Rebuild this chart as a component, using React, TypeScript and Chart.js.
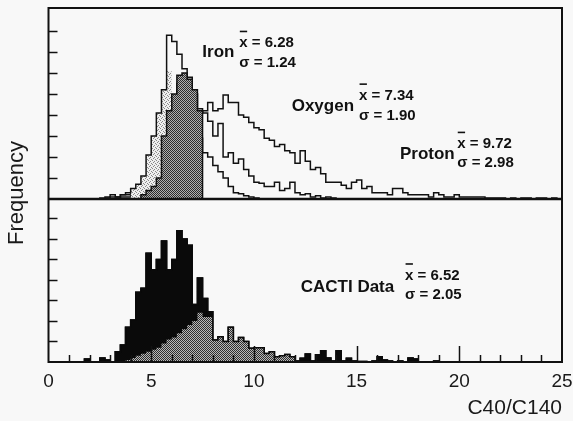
import React, { useEffect, useRef } from 'react';
import { Chart, registerables } from 'chart.js';

Chart.register(...registerables);

const FONT = "'Liberation Sans', Arial, Helvetica, sans-serif";
const BG = '#f8f8f8';
const INK = '#111111';

// ---------- data (bin width 0.25 in C40/C140) ----------
const BIN_WIDTH = 0.25;

const xTickValues = [0, 5, 10, 15, 20, 25];
const topTickValues = [10, 20, 30, 40, 50, 60, 70, 80];
const bottomTickValues = [10, 20, 30, 40, 50, 60, 70];

// Top panel: simulated showers
const ironStart = 2.75;
const ironCounts = [1, 2, 1, 2, 3, 5, 7, 11, 21, 30, 41, 52, 78, 75, 69, 62, 58, 50, 29, 22, 20, 16, 13, 10, 6, 3, 2.5, 1.5, 1, 0.5];

const ironShadeStart = 4.0;
const ironShadeCounts = [5, 7, 11, 21, 30, 41, 52, 61];

const overlapShadeStart = 4.5;
const overlapShadeCounts = [2, 4, 6, 10, 30, 42, 50, 59, 60, 57, 52, 42];

const oxygenStart = 3.5;
const oxygenCounts = [1, 1, 2, 3, 4, 6, 9, 13, 25, 38, 47, 55, 58, 56, 50, 43, 41, 37, 30, 36, 20, 22, 17, 19, 14, 11, 8, 7.5, 6, 6, 8, 4, 5, 8, 3, 2, 2.5, 1, 1.5, 0.5, 1, 0.5];

const protonStart = 2.5;
const protonCounts = [0.5, 0.5, 1, 1, 2, 2, 3, 4, 5, 7, 9, 11, 14, 18, 22, 26, 30, 34, 38, 41, 42, 46, 42, 43, 49.5, 46, 46, 40, 39, 36.5, 34, 33, 29, 28, 25, 26, 23, 22, 17, 23, 18, 14, 15, 12, 8, 8, 8, 6.5, 5, 8, 9, 5, 6, 3, 3, 3, 2, 5, 5, 3, 2, 2, 2, 2, 1, 3, 2, 1, 1, 2, 1, 1, 1, 1, 1, 0.5, 0.5, 0.5, 0.5, 0, 0.5, 0, 0.5, 0.5, 0, 0.5, 0.5, 0, 0.5];

// Bottom panel: CACTI data
const cactiStart = 1.75;
const cactiCounts = [1.5, 0, 0, 2, 1, 0, 5, 8.3, 17, 20.5, 34, 36, 53, 45, 50, 59, 45, 50, 64, 60, 57, 28, 41, 31, 24.5, 10.7, 12.3, 10, 17, 10, 12, 10, 6.7, 7, 7, 4.2, 5, 2.6, 3, 3.7, 2.5, 0.5, 1.8, 3.9, 0.5, 3.5, 5.5, 2, 0.5, 5.5, 0.5, 1.8, 0.5, 0.3, 0.3, 0, 0.5, 2.5, 1, 0.5, 0, 0.5, 0, 2, 1.5, 0, 0, 0, 0.5];

const cactiShadeStart = 3.75;
const cactiShadeCounts = [1, 2, 3, 4, 5, 6, 7, 9, 11, 12, 14, 16, 18, 20, 24, 22, 22, 10.7, 12.3, 10, 17, 10, 12, 10, 6.7, 7, 7, 4.2, 5, 2.6, 3, 3.7, 2.5, 0.5];

// Text labels (x in C40/C140 units, y in the panel's own units, alphabetic baselines)
const statLabels = [
  { name: 'Iron', mean: '6.28', sigma: '1.24', axis: 'yTop', nameX: 7.49, nameY: 67.8, statsX: 9.29, meanY: 72.2, sigmaY: 63.0 },
  { name: 'Oxygen', mean: '7.34', sigma: '1.90', axis: 'yTop', nameX: 11.84, nameY: 41.9, statsX: 15.12, meanY: 47.1, sigmaY: 37.6 },
  { name: 'Proton', mean: '9.72', sigma: '2.98', axis: 'yTop', nameX: 17.11, nameY: 18.9, statsX: 19.9, meanY: 24.1, sigmaY: 15.4 },
  { name: 'CACTI Data', mean: '6.52', sigma: '2.05', axis: 'yBot', nameX: 12.28, nameY: 34.3, statsX: 17.36, meanY: 40.0, sigmaY: 30.6 },
];

// ---------- helpers ----------
function histPoints(start: number, counts: number[]) {
  const pts: { x: number; y: number }[] = [{ x: start, y: 0 }];
  counts.forEach((c, i) => pts.push({ x: start + i * BIN_WIDTH, y: c }));
  pts.push({ x: start + counts.length * BIN_WIDTH, y: 0 });
  return pts;
}

function makePattern(size: number, bg: string, fg: string, dots: [number, number][]) {
  const c = document.createElement('canvas');
  c.width = size;
  c.height = size;
  const g = c.getContext('2d')!;
  g.fillStyle = bg;
  g.fillRect(0, 0, size, size);
  g.fillStyle = fg;
  dots.forEach(([x, y]) => g.fillRect(x, y, 1, 1));
  return g.createPattern(c, 'repeat')!;
}

const framePlugin = {
  id: 'frame',
  afterDatasetsDraw(chart: any) {
    const { ctx, chartArea: ca, scales } = chart;
    const yTop = scales.yTop;
    const yBot = scales.yBot;
    const x = scales.x;
    ctx.save();
    ctx.strokeStyle = INK;
    ctx.lineWidth = 1.5;
    ctx.beginPath();
    topTickValues.forEach((v) => {
      const py = Math.round(yTop.getPixelForValue(v)) + 0.5;
      ctx.moveTo(ca.left, py);
      ctx.lineTo(ca.left + 9, py);
    });
    bottomTickValues.forEach((v) => {
      const py = Math.round(yBot.getPixelForValue(v)) + 0.5;
      ctx.moveTo(ca.left, py);
      ctx.lineTo(ca.left + 9, py);
    });
    for (let v = 1; v < 25; v++) {
      const px = Math.round(x.getPixelForValue(v)) + 0.5;
      const len = v % 5 === 0 ? 16 : 7;
      ctx.moveTo(px, ca.bottom);
      ctx.lineTo(px, ca.bottom - len);
    }
    ctx.stroke();
    // frame
    ctx.lineWidth = 2;
    ctx.strokeRect(ca.left, ca.top, ca.right - ca.left, ca.bottom - ca.top);
    // separator between panels
    ctx.lineWidth = 2.5;
    ctx.beginPath();
    const sy = yTop.getPixelForValue(0);
    ctx.moveTo(ca.left, sy);
    ctx.lineTo(ca.right, sy);
    ctx.stroke();
    ctx.restore();
  },
};

const textPlugin = {
  id: 'texts',
  afterDraw(chart: any) {
    const { ctx, chartArea: ca, scales } = chart;
    const x = scales.x;
    ctx.save();
    ctx.fillStyle = '#1a1a1a';
    ctx.font = `22px ${FONT}`;
    ctx.textAlign = 'center';
    ctx.textBaseline = 'middle';
    ctx.translate(17, (ca.top + ca.bottom) / 2 + 8);
    ctx.rotate(-Math.PI / 2);
    ctx.fillText('Frequency', 0, 0);
    ctx.restore();

    ctx.save();
    ctx.fillStyle = INK;
    ctx.strokeStyle = INK;
    ctx.textAlign = 'left';
    ctx.textBaseline = 'alphabetic';
    statLabels.forEach((l) => {
      const y = scales[l.axis];
      ctx.font = `bold 17px ${FONT}`;
      ctx.fillText(l.name, x.getPixelForValue(l.nameX), y.getPixelForValue(l.nameY));
      ctx.font = `bold 15px ${FONT}`;
      const sx = x.getPixelForValue(l.statsX);
      const my = y.getPixelForValue(l.meanY);
      ctx.fillText(`x = ${l.mean}`, sx, my);
      const w = ctx.measureText('x').width;
      ctx.lineWidth = 1.6;
      ctx.beginPath();
      ctx.moveTo(sx + 0.5, my - 16);
      ctx.lineTo(sx + w - 0.5, my - 16);
      ctx.stroke();
      ctx.fillText(`σ = ${l.sigma}`, sx, y.getPixelForValue(l.sigmaY));
    });
    ctx.restore();
  },
};

export default function App() {
  const ref = useRef<HTMLCanvasElement>(null);

  useEffect(() => {
    const canvas = ref.current!;
    const lightPat = makePattern(4, '#efefef', '#8a8a8a', [[0, 0], [2, 1], [1, 2], [3, 3]]);
    const darkPat = makePattern(2, '#b0b0b0', '#2c2c2c', [[0, 0], [1, 1]]);
    const grayPat = makePattern(2, '#b8b8b8', '#2e2e2e', [[0, 0], [1, 1]]);

    const base = {
      stepped: true,
      pointRadius: 0,
      borderColor: INK,
      borderWidth: 1.5,
      tension: 0,
      xAxisID: 'x',
    };

    const chart = new Chart(canvas, {
      type: 'line',
      data: {
        datasets: [
          { ...base, label: 'Proton', data: histPoints(protonStart, protonCounts), yAxisID: 'yTop', fill: false, order: 10 },
          { ...base, label: 'Oxygen', data: histPoints(oxygenStart, oxygenCounts), yAxisID: 'yTop', fill: false, order: 9 },
          { ...base, label: 'Iron shade', data: histPoints(ironShadeStart, ironShadeCounts), yAxisID: 'yTop', fill: 'origin', backgroundColor: lightPat, borderWidth: 0, borderColor: 'rgba(0,0,0,0)', order: 8 },
          { ...base, label: 'Iron', data: histPoints(ironStart, ironCounts), yAxisID: 'yTop', fill: false, order: 7 },
          { ...base, label: 'Overlap shade', data: histPoints(overlapShadeStart, overlapShadeCounts), yAxisID: 'yTop', fill: 'origin', backgroundColor: darkPat, order: 6 },
          { ...base, label: 'CACTI Data', data: histPoints(cactiStart, cactiCounts), yAxisID: 'yBot', fill: 'origin', backgroundColor: '#0a0a0a', borderColor: '#0a0a0a', order: 3 },
          { ...base, label: 'CACTI shade', data: histPoints(cactiShadeStart, cactiShadeCounts), yAxisID: 'yBot', fill: 'origin', backgroundColor: grayPat, borderWidth: 0, borderColor: 'rgba(0,0,0,0)', order: 2 },
          { ...base, label: 'CACTI outline', data: histPoints(cactiStart, cactiCounts), yAxisID: 'yBot', fill: false, borderColor: '#0a0a0a', order: 1 },
        ],
      },
      options: {
        responsive: false,
        animation: false,
        events: [],
        layout: { padding: { left: 48.5, right: 11, top: 8, bottom: 0 } },
        plugins: {
          legend: { display: false },
          tooltip: { enabled: false },
          title: { display: false },
        },
        scales: {
          x: {
            type: 'linear',
            position: 'bottom',
            min: 0,
            max: 25,
            afterBuildTicks: (s: any) => {
              s.ticks = xTickValues.map((v) => ({ value: v }));
            },
            ticks: {
              color: '#1a1a1a',
              font: { family: FONT, size: 19, lineHeight: 39 / 19 },
              padding: 0,
              maxRotation: 0,
              autoSkip: false,
            },
            grid: { display: false, drawTicks: false },
            border: { display: false },
            title: {
              display: true,
              text: 'C40/C140',
              align: 'end',
              color: '#1a1a1a',
              font: { family: FONT, size: 21, lineHeight: 14 / 21 },
              padding: { top: 0, bottom: 6 },
            },
          },
          yBot: {
            type: 'linear',
            position: 'left',
            stack: 'panels',
            stackWeight: 163,
            min: 0,
            max: 79.5,
            ticks: { display: false, stepSize: 10 },
            grid: { display: false, drawTicks: false },
            border: { display: false },
          },
          yTop: {
            type: 'linear',
            position: 'left',
            stack: 'panels',
            stackWeight: 191,
            min: 0,
            max: 91,
            ticks: { display: false, stepSize: 10 },
            grid: { display: false, drawTicks: false },
            border: { display: false },
          },
        },
      } as any,
      plugins: [framePlugin, textPlugin],
    });

    return () => chart.destroy();
  }, []);

  return (
    <div style={{ position: 'absolute', left: 0, top: 0, width: 573, height: 421, background: BG }}>
      <canvas ref={ref} width={573} height={421} style={{ display: 'block', width: 573, height: 421 }} />
    </div>
  );
}
